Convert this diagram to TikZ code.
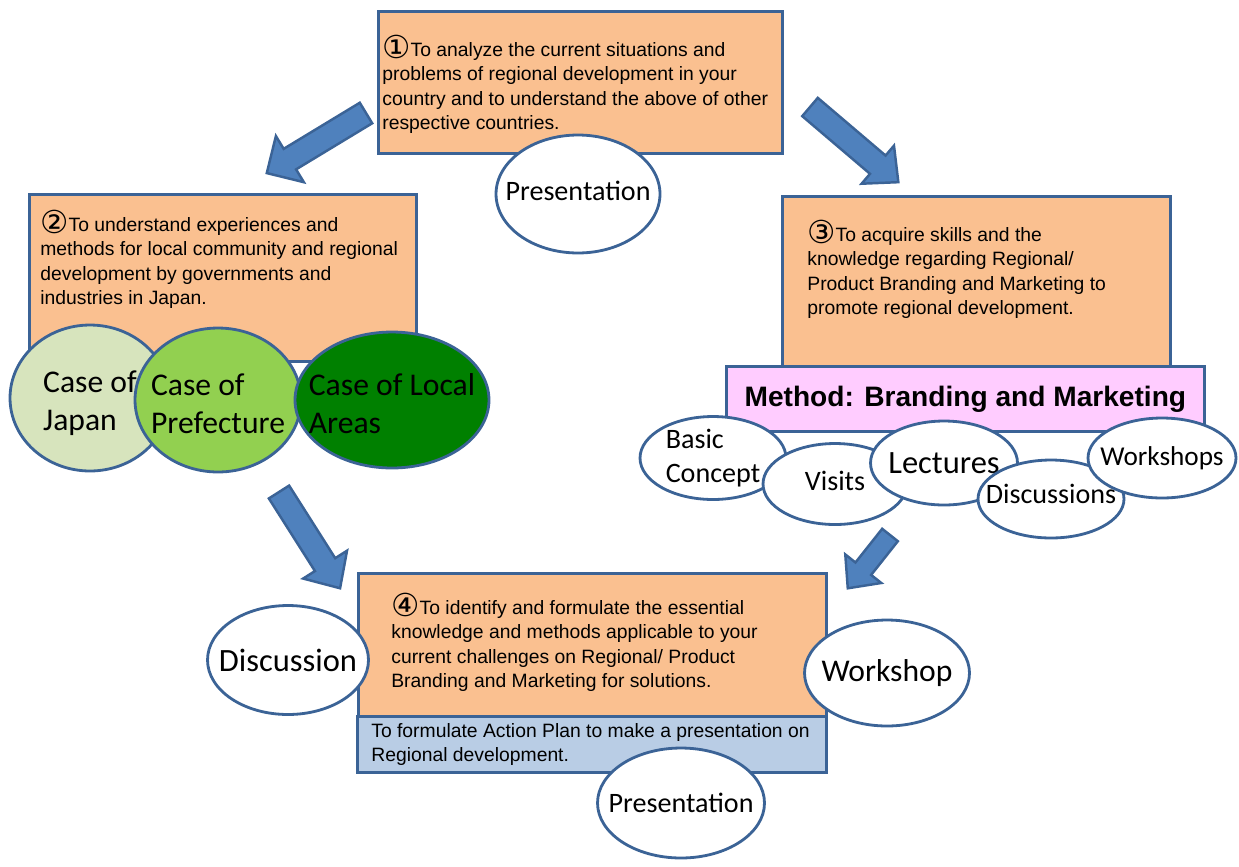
\documentclass[tikz,border=0pt]{standalone}
\usepackage{fontspec}
\setmainfont{Liberation Sans}
\newfontfamily\calfont{Carlito}
\newfontfamily\numfont{DejaVu Sans}
\usetikzlibrary{shapes.geometric}

\definecolor{peach}{HTML}{FAC090}
\definecolor{edgeblue}{HTML}{3B6396}
\definecolor{arrblue}{HTML}{4F81BD}
\definecolor{pinkbox}{HTML}{FFCCFF}
\definecolor{planblue}{HTML}{B9CDE5}
\definecolor{lightgreen}{HTML}{D7E4BD}
\definecolor{midgreen}{HTML}{92D050}
\definecolor{darkgreen}{HTML}{008000}

\newcommand{\circnum}[1]{\raisebox{-1.5pt}{\numfont\fontsize{18}{18}\selectfont #1}}
% tail, angle, length, head length, shaft half width, head half width
\newcommand{\blockarrow}[6]{%
  \draw[blockarr, shift={#1}, rotate=-#2]
    (0,#5) -- (#3-#4,#5) -- (#3-#4,#6) -- (#3,0) -- (#3-#4,-#6) -- (#3-#4,-#5) -- (0,-#5) -- cycle;}

\tikzset{
  goalbox/.style={draw=edgeblue, line width=1.6pt, fill=peach, anchor=north west, inner sep=0pt},
  goaltext/.style={anchor=north west, align=left, inner sep=0pt, font=\fontsize{11}{14}\selectfont},
  bubble/.style={ellipse, draw=edgeblue, line width=1.6pt, fill=white, inner sep=0pt},
  bubbletext/.style={align=left, inner sep=0pt, font=\calfont\fontsize{16}{19.5}\selectfont},
  casetext/.style={align=left, inner sep=0pt, font=\calfont\fontsize{18}{21.5}\selectfont},
  blockarr/.style={draw=edgeblue, line width=1.4pt, fill=arrblue, line join=miter},
}

\begin{document}
\begin{tikzpicture}[x=0.02cm, y=-0.02cm]
  \useasboundingbox (0,0) rectangle (1239,866);

  % Arrows
  \coordinate (arrA) at (366,113);
  \coordinate (arrB) at (810,107);
  \coordinate (arrC) at (279,492);
  \coordinate (arrD) at (890,535);
  \blockarrow{(arrA)}{148.8}{116}{27}{12}{27}
  \blockarrow{(arrB)}{40.4}{116}{27}{12}{25}
  \blockarrow{(arrC)}{57.6}{114}{28}{12}{26}
  \blockarrow{(arrD)}{128.4}{68}{25}{10}{23}

  % Goal 1
  \node[goalbox, minimum width=8.08cm, minimum height=2.84cm] (goal1) at (377,10) {};
  \node[goaltext] (goal1txt) at (382,35) {\circnum{①}To analyze the current situations and\\problems of regional development in your\\country and to understand the above of other\\respective countries.};
  \node[bubble, minimum width=3.28cm, minimum height=2.36cm] (pres1) at (578,194) {};
  \node[bubbletext] at ([yshift=0.06cm]pres1) {Presentation};

  % Goal 2
  \node[goalbox, minimum width=7.74cm, minimum height=3.34cm] (goal2) at (28,193) {};
  \node[goaltext] (goal2txt) at (40,210) {\circnum{②}To understand experiences and\\methods for local community and regional\\development by governments and\\industries in Japan.};
  \node[bubble, fill=lightgreen, minimum width=3.2cm, minimum height=2.92cm] (japan) at (90,398) {};
  \node[casetext] at ([yshift=-0.1cm]japan) {Case of\\Japan};
  \node[bubble, fill=midgreen, minimum width=3.32cm, minimum height=2.88cm] (pref) at (218,400) {};
  \node[casetext] at ([yshift=-0.08cm]pref) {Case of\\Prefecture};
  \node[bubble, fill=darkgreen, minimum width=3.88cm, minimum height=2.72cm] (local) at (392,400) {};
  \node[casetext] at ([yshift=-0.08cm]local) {Case of Local\\Areas};

  % Goal 3
  \node[goalbox, minimum width=7.76cm, minimum height=3.4cm] (goal3) at (781,195) {};
  \node[goaltext] (goal3txt) at (807,220) {\circnum{③}To acquire skills and the\\knowledge regarding Regional/\\Product Branding and Marketing to\\promote regional development.};
  \node[goalbox, fill=pinkbox, minimum width=9.56cm, minimum height=1.3cm,
        font=\bfseries\fontsize{16}{19}\selectfont] (method) at (725,365) {Method: Branding and Marketing};
  \node[bubble, minimum width=2.92cm, minimum height=1.66cm] (basic) at (713,458) {};
  \node[bubbletext] at (basic) {Basic\\Concept};
  \node[bubble, minimum width=2.88cm, minimum height=1.62cm] (visits) at (835,484) {};
  \node[bubbletext] at ([yshift=0.06cm]visits) {Visits};
  \node[bubble, minimum width=2.94cm, minimum height=1.68cm] (lect) at (944,463) {};
  \node[bubbletext, font=\calfont\fontsize{18.5}{20}\selectfont] at (lect) {Lectures};
  \node[bubble, minimum width=2.92cm, minimum height=1.56cm] (discs) at (1051,499) {};
  \node[bubbletext] at ([yshift=0.1cm]discs) {Discussions};
  \node[bubble, minimum width=2.96cm, minimum height=1.6cm] (works) at (1162,458) {};
  \node[bubbletext, font=\calfont\fontsize{15.5}{18}\selectfont] at (works) {Workshops};

  % Goal 4
  \node[goalbox, minimum width=9.36cm, minimum height=2.86cm] (goal4) at (357,572) {};
  \node[goaltext] (goal4txt) at (391,593) {\circnum{④}To identify and formulate the essential\\knowledge and methods applicable to your\\current challenges on Regional/ Product\\Branding and Marketing for solutions.};
  \node[goalbox, fill=planblue, minimum width=9.38cm, minimum height=1.12cm] (plan) at (356,715) {};
  \node[goaltext] (plantxt) at (371,723) {To formulate Action Plan to make a presentation on\\Regional development.};
  \node[bubble, minimum width=3.22cm, minimum height=2.18cm] (disc) at (288,660) {};
  \node[casetext, font=\calfont\fontsize{18.5}{21.5}\selectfont] at (disc) {Discussion};
  \node[bubble, minimum width=3.3cm, minimum height=2.12cm] (work) at (887,673) {};
  \node[casetext] at (work) {Workshop};
  \node[bubble, minimum width=3.34cm, minimum height=2.2cm] (pres2) at (681,803) {};
  \node[bubbletext] at (pres2) {Presentation};
\end{tikzpicture}
\end{document}
